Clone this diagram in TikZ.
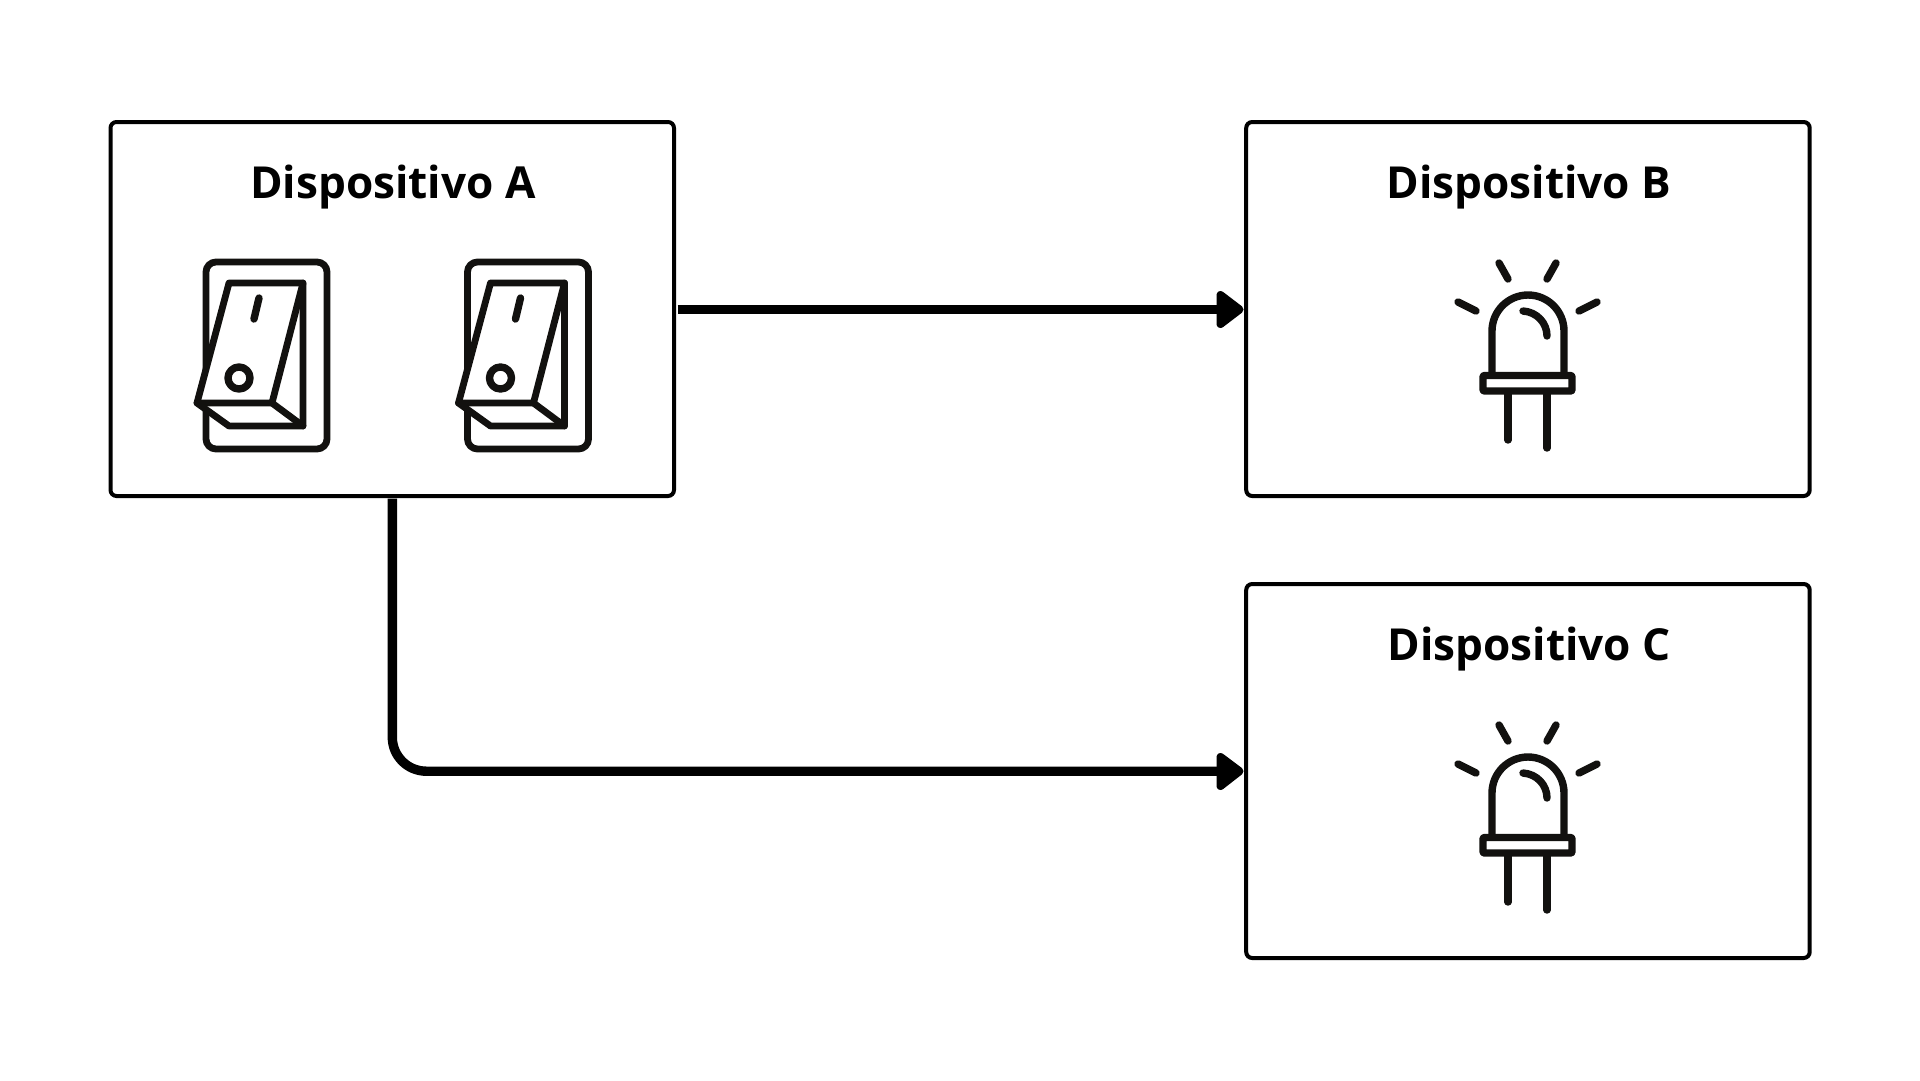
\documentclass[tikz,border=0pt]{standalone}
\usepackage{fontspec}
\setmainfont{Open Sans}
\usetikzlibrary{arrows.meta}
\tikzset{
  x=1pt,y=-1pt,
  devbox/.style={draw=black,line width=4pt,rounded corners=6pt,minimum width=563.5pt,minimum height=374pt,fill=white,anchor=north west,inner sep=0pt,outer sep=0pt},
  devtitle/.style={font=\bfseries\fontsize{44.1}{50}\selectfont,text=black,anchor=center,inner sep=0pt},
  conn/.style={line width=9.4pt,black,rounded corners=34pt},
  icon/.style={line width=6.8pt,draw=ink,line cap=round,line join=round},
  icontwo/.style={icon,line width=7.4pt},
  tip/.style={fill=black,draw=black,line width=8pt,line join=round},
}
\definecolor{ink}{HTML}{12110F}
\newcommand{\switchicon}[2]{%
  \begin{scope}[shift={(#1,#2)}]
    \draw[icon,rounded corners=10pt] (206,262) rectangle (327,449);
    \draw[icon,fill=white] (229,283) -- (303,283) -- (303,426) -- (229,426) -- (197,403) -- cycle;
    \draw[icon] (197,403) -- (272,403) -- (303,283);
    \draw[icon] (272,403) -- (303,426);
    \draw[icontwo] (259,298) -- (254,319);
    \draw[icontwo] (239,378) circle[radius=11];
  \end{scope}}
\newcommand{\ledicon}[2]{%
  \begin{scope}[shift={(#1,#2)}]
    \draw[icontwo] (1492,375) -- (1492,331) arc[start angle=180,end angle=360,x radius=36,y radius=36] -- (1564,375);
    \draw[icontwo,line cap=butt,rounded corners=1pt] (1483,375.5) rectangle (1572,391);
    \draw[icontwo] (1508,393) -- (1508,440);
    \draw[icontwo] (1547,393) -- (1547,448);
    \draw[icontwo] (1499,263) -- (1508,279);
    \draw[icontwo] (1556,263) -- (1547,279);
    \draw[icontwo] (1458,302) -- (1476,311);
    \draw[icontwo] (1597,302) -- (1579,311);
    \draw[icontwo] (1523,311) .. controls (1537,312) and (1547,323) .. (1547,336);
  \end{scope}}
\begin{document}
\begin{tikzpicture}
\useasboundingbox[fill=white] (0,0) rectangle (1920,1080);
\node[devbox] (a) at (110.5,122) {};
\node[devbox] (b) at (1246.2,122) {};
\node[devbox] (c) at (1246.2,584) {};
\node[devtitle] (ta) at (393,187.2) {Dispositivo A};
\node[devtitle] (tb) at (1529,187.2) {Dispositivo B};
\node[devtitle] (tc) at (1529,649.2) {Dispositivo C};
\switchicon{0}{0}
\switchicon{261.5}{0}
\ledicon{0}{0}
\ledicon{0}{462}
\coordinate (bt) at (1225,309.6);
\coordinate (ct) at (1225,771.2);
\coordinate (as) at (677.5,309.6);
\coordinate (ad) at (392.3,498.5);
\draw[conn] (as) -- (bt);
\draw[conn] (ad) |- (ct);
\draw[tip] (1220.5,295) -- (1239.5,309.5) -- (1220.5,324) -- cycle;
\draw[tip] (1220.5,757) -- (1239.5,771.2) -- (1220.5,786) -- cycle;
\end{tikzpicture}
\end{document}
